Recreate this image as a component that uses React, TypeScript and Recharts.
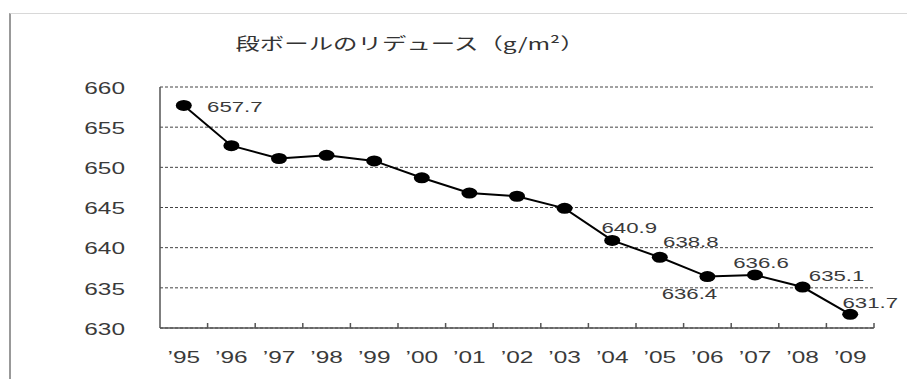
import {
  LineChart,
  Line,
  XAxis,
  YAxis,
  CartesianGrid,
  LabelList,
} from "recharts";

const YEARS = ["’95", "’96", "’97", "’98", "’99", "’00", "’01", "’02", "’03", "’04", "’05", "’06", "’07", "’08", "’09"];
const WEIGHTS = [657.7, 652.7, 651.1, 651.5, 650.8, 648.7, 646.8, 646.4, 644.9, 640.9, 638.8, 636.4, 636.6, 635.1, 631.7];
const Y_TICKS = [630, 635, 640, 645, 650, 655, 660];

const data = YEARS.map((year, i) => ({ year, weight: WEIGHTS[i] }));

// the whole figure is drawn wide, so text gets squashed out horizontally
const STRETCH = 1.48;
const FONT = "'Liberation Sans', Arial, sans-serif";
const TEXT_COLOR = "#3a3a3a";

// where each value label sits relative to its point (only these are labelled)
const LABEL_OFFSETS: Record<number, [number, number]> = {
  0: [51, 1],
  9: [17, -13],
  10: [31, -16],
  11: [-18, 17],
  12: [6, -12],
  13: [34, -11],
  14: [20, -12],
};

function EllipseDot(props: any) {
  const { cx, cy } = props;
  if (cx == null || cy == null) return null;
  return <ellipse cx={cx} cy={cy} rx={8} ry={5.5} fill="#000" />;
}

function YearTick(props: any) {
  const { x, y, payload } = props;
  const half = payload.offset ?? 23.8;
  return (
    <g>
      <line x1={x + half} x2={x + half} y1={y} y2={y - 5} stroke="#555" strokeWidth={1.5} />
      <g transform={`translate(${x},${y + 29}) scale(${STRETCH},1)`}>
        <text x={0} y={0} dy="0.35em" textAnchor="middle" fontSize={16.5} fontFamily={FONT} fill={TEXT_COLOR}>
          {payload.value}
        </text>
      </g>
    </g>
  );
}

function WeightTick(props: any) {
  const { x, y, payload } = props;
  return (
    <g transform={`translate(${x - 35},${y + 1}) scale(${STRETCH},1)`}>
      <text x={0} y={0} dy="0.35em" textAnchor="end" fontSize={16.5} fontFamily={FONT} fill={TEXT_COLOR}>
        {payload.value}
      </text>
    </g>
  );
}

function ValueLabel(props: any) {
  const { x, y, index, value } = props;
  const off = LABEL_OFFSETS[index];
  if (!off) return null;
  return (
    <g transform={`translate(${x + off[0]},${y + off[1]}) scale(${STRETCH},1)`}>
      <text x={0} y={0} dy="0.35em" textAnchor="middle" fontSize={15} fontFamily={FONT} fill={TEXT_COLOR}>
        {Number(value).toFixed(1)}
      </text>
    </g>
  );
}

export default function App() {
  return (
    <div
      style={{
        position: "absolute",
        left: 0,
        top: 0,
        width: 907,
        height: 379,
        background: "#fff",
        overflow: "hidden",
      }}
    >
      <div
        style={{
          position: "absolute",
          left: 9,
          top: 13,
          right: 0,
          bottom: 0,
          borderLeft: "2px solid #999",
          borderTop: "1px solid #d8d8d8",
        }}
      />
      <div
        style={{
          position: "absolute",
          left: 410,
          top: 43,
          transform: `translate(-50%, -50%) scale(${STRETCH}, 1)`,
          whiteSpace: "nowrap",
          fontFamily: "'Noto Sans CJK JP', sans-serif",
          fontSize: 16.5,
          color: "#333",
        }}
      >
        段ボールのリデュース（g/m²）
      </div>
      <div style={{ position: "absolute", left: 0, top: 0 }}>
        <LineChart
          width={907}
          height={379}
          data={data}
          margin={{ top: 87, right: 33, bottom: 0, left: 100 }}
        >
          <CartesianGrid vertical={false} stroke="#444" strokeDasharray="3 2" />
          <XAxis
            dataKey="year"
            scale="band"
            height={51}
            tickLine={false}
            tickSize={0}
            tickMargin={0}
            interval={0}
            axisLine={{ stroke: "#555", strokeWidth: 1.5 }}
            tick={<YearTick />}
          />
          <YAxis
            width={60}
            domain={[630, 660]}
            ticks={Y_TICKS}
            tickLine={false}
            tickSize={0}
            tickMargin={0}
            axisLine={{ stroke: "#555", strokeWidth: 1.5 }}
            tick={<WeightTick />}
          />
          <Line
            type="linear"
            dataKey="weight"
            stroke="#000"
            strokeWidth={2}
            dot={<EllipseDot />}
            activeDot={false}
            isAnimationActive={false}
          >
            <LabelList dataKey="weight" content={<ValueLabel />} />
          </Line>
        </LineChart>
      </div>
    </div>
  );
}
